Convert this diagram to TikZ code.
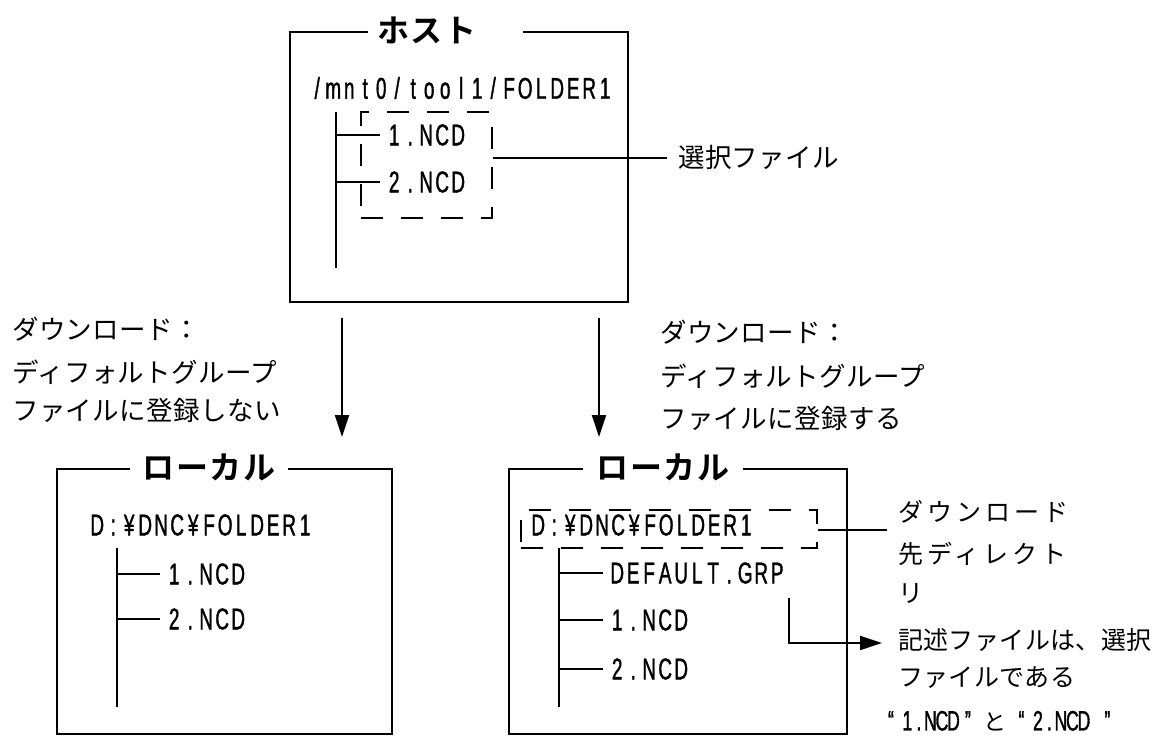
\documentclass[tikz,border=0pt]{standalone}
\usepackage{fontspec}
\usetikzlibrary{arrows.meta}
\newfontfamily\jp[LetterSpace=1.5]{Noto Sans CJK JP}
\newfontfamily\jpsp[LetterSpace=16]{Noto Sans CJK JP}
\newfontfamily\jpb[LetterSpace=5]{Noto Sans CJK JP Bold}
\newfontfamily\cond[FakeStretch=0.63,FakeBold=1.2]{Liberation Sans}
\ExplSyntaxOn
\NewDocumentCommand\mt{O{16pt}m}{\tl_map_inline:nn{#2}{\makebox[#1]{##1}}}
\ExplSyntaxOff
\begin{document}
\begin{tikzpicture}[x=1pt,y=-1pt,
  ln/.style={line width=2pt},
  box/.style={draw,line width=2pt,rectangle,inner sep=0pt},
  dbox/.style={draw,line width=2pt,dash pattern=on 22pt off 18pt,inner sep=0pt},
  ttl/.style={fill=white,inner ysep=4pt,inner xsep=0pt,font=\jpb\fontsize{32}{36}\selectfont},
  pathtxt/.style={inner sep=0pt,anchor=west,font=\cond\fontsize{30}{32}\selectfont},
  file/.style={inner ysep=0pt,inner xsep=6pt,anchor=west,font=\cond\fontsize{30}{32}\selectfont},
  lbl/.style={inner sep=0pt,anchor=west,font=\jp\fontsize{26.5}{30}\selectfont},
  note/.style={inner sep=0pt,anchor=west,font=\jp\fontsize{25}{30}\selectfont},
  snote/.style={inner sep=0pt,anchor=west,font=\jpsp\fontsize{25}{30}\selectfont},
  arr/.style={line width=2pt,-{Triangle[length=22pt,width=14pt]}}
]
\useasboundingbox (0,0) rectangle (1154,736);

% ---------------- host ----------------
\node[box,minimum width=338pt,minimum height=270pt] (host) at (459,167) {};
\node[ttl,anchor=west,text width=137pt,align=left,inner xsep=9pt] (hostt) at (368,30) {ホスト};
\node[pathtxt] (hpath) at (309,88) {\mt{/mnt0/tool1/FOLDER1}};
\node[file] (h1) at (380,135) {\mt{1.NCD}};
\node[file] (h2) at (380,182) {\mt{2.NCD}};
\coordinate (htop) at (336,112);
\coordinate (hbot) at (336,268);
\draw[ln] (htop) -- (hbot);
\draw[ln] (h1.west -| htop) -- (h1.west);
\draw[ln] (h2.west -| htop) -- (h2.west);
\node[dbox,minimum width=131pt,minimum height=106pt] (hsel) at (426.5,165) {};
\node[lbl] (sellbl) at (678,157) {選択ファイル};
\coordinate (selend) at (667,158);
\draw[ln] (hsel.east |- selend) -- (selend);

% ---------------- arrows ----------------
\coordinate (a1s) at (342,318);
\coordinate (a1e) at (342,437);
\draw[arr] (a1s) -- (a1e);
\coordinate (a2s) at (599,318);
\coordinate (a2e) at (599,437);
\draw[arr] (a2s) -- (a2e);

\node[lbl] (ll1) at (12,329) {ダウンロード：};
\node[lbl] (ll2) at (12,372) {ディフォルトグループ};
\node[lbl] (ll3) at (12,410) {ファイルに登録しない};
\node[lbl] (rl1) at (660,332) {ダウンロード：};
\node[lbl] (rl2) at (660,376) {ディフォルトグループ};
\node[lbl] (rl3) at (660,418) {ファイルに登録する};

% ---------------- local (left) ----------------
\node[box,minimum width=335pt,minimum height=265pt] (loc1) at (224.5,601.5) {};
\node[ttl,minimum width=158pt] (loc1t) at (209,467) {ローカル};
\node[pathtxt] (l1path) at (89,525) {\mt{D:¥DNC¥FOLDER1}};
\coordinate (l1top) at (117,548);
\coordinate (l1bot) at (117,707);
\draw[ln] (l1top) -- (l1bot);
\node[file] (l1a) at (160,574) {\mt{1.NCD}};
\node[file] (l1b) at (160,619) {\mt{2.NCD}};
\draw[ln] (l1a.west -| l1top) -- (l1a.west);
\draw[ln] (l1b.west -| l1top) -- (l1b.west);

% ---------------- local (right) ----------------
\node[box,minimum width=338pt,minimum height=265pt] (loc2) at (678,601.5) {};
\node[ttl,minimum width=160pt] (loc2t) at (663,467) {ローカル};
\node[dbox,minimum width=296pt,minimum height=38pt] (rsel) at (669,529) {};
\node[pathtxt] (l2path) at (530,525) {\mt{D:¥DNC¥FOLDER1}};
\coordinate (l2top) at (559,548);
\coordinate (l2bot) at (559,707);
\draw[ln] (l2top) -- (l2bot);
\node[file] (l2g) at (603,573) {\mt{DEFAULT.GRP}};
\node[file] (l2a) at (603,620) {\mt{1.NCD}};
\node[file] (l2b) at (603,669) {\mt{2.NCD}};
\draw[ln] (l2g.west -| l2top) -- (l2g.west);
\draw[ln] (l2a.west -| l2top) -- (l2a.west);
\draw[ln] (l2b.west -| l2top) -- (l2b.west);

\node[snote] (d1) at (898,512) {ダウンロード};
\node[snote] (d2) at (898,554) {先ディレクト};
\node[snote] (d3) at (898,594) {リ};
\coordinate (dend) at (887,530);
\draw[ln] (rsel.east |- dend) -- (dend);

\node[note] (n1) at (898,640) {記述ファイルは、選択};
\node[note] (n2) at (898,678) {ファイルである};
\node[inner sep=0pt,anchor=west] (n3) at (885,721) {\cond\fontsize{28}{30}\selectfont \mt[11.5pt]{“}\hspace{5pt}\mt[11.5pt]{1.NCD}\hspace{3pt}\mt[11.5pt]{”}\hspace{10pt}{\jp\fontsize{23}{26}\selectfont と}\hspace{9pt}\mt[11.5pt]{“}\hspace{5pt}\mt[11.5pt]{2.NCD}\hspace{12pt}\mt[11.5pt]{”}};
\coordinate (gtop) at (789,598);
\coordinate (gtip) at (882,643);
\draw[arr] (gtop) |- (gtip);
\end{tikzpicture}
\end{document}
